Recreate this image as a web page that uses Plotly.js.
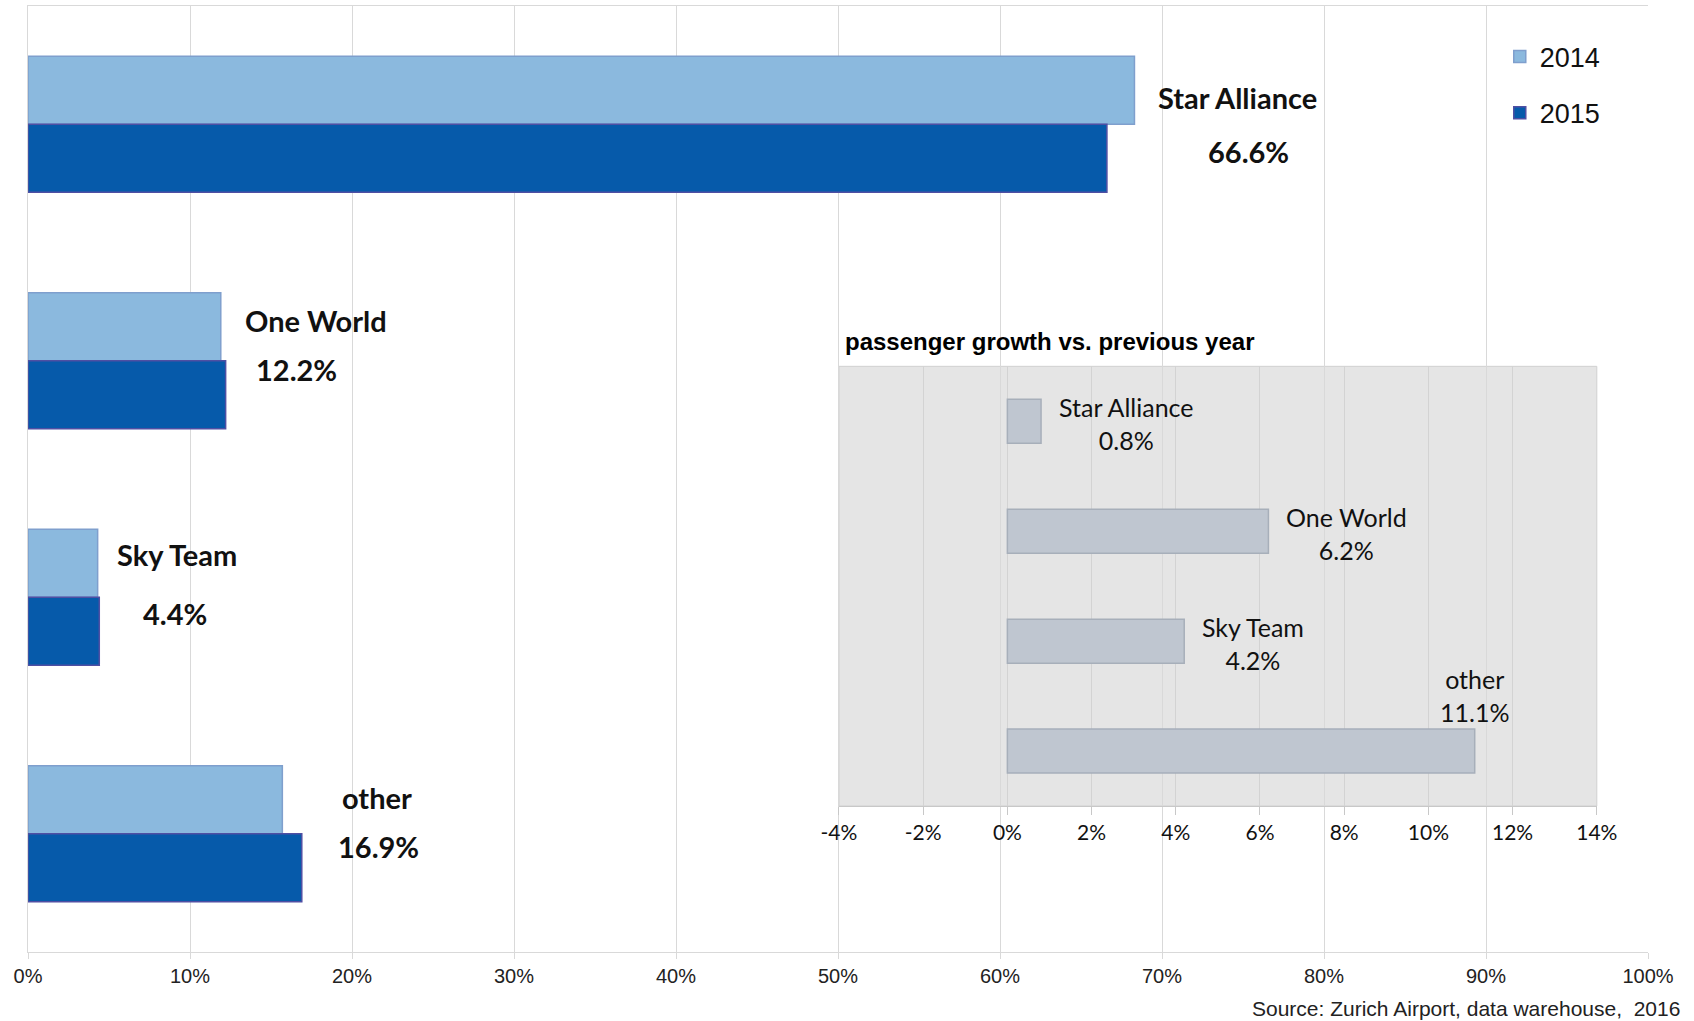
<!DOCTYPE html>
<html>
<head>
<meta charset="utf-8">
<script src="https://cdn.plot.ly/plotly-3.0.1.min.js"></script>
<style>
  html, body { margin: 0; padding: 0; background: #ffffff; }
  #chart { width: 1694px; height: 1021px; }
</style>
</head>
<body>
<div id="chart"></div>
<script>
// ---- data ----
var categories = ['Star Alliance', 'One World', 'Sky Team', 'other'];
var share2014 = [68.3, 11.9, 4.3, 15.7];
var share2015 = [66.6, 12.2, 4.4, 16.9];
var growth = [0.8, 6.2, 4.2, 11.1];
var seriesNames = ['2014', '2015'];
var mainTicks = [0, 10, 20, 30, 40, 50, 60, 70, 80, 90, 100];
var insetTicks = [-4, -2, 0, 2, 4, 6, 8, 10, 12, 14];
var insetTitle = 'passenger growth vs. previous year';
var sourceText = 'Source: Zurich Airport, data warehouse,  2016';

// ---- label placement (pixel offsets from bar end / category centre) ----
var nameOffset  = [[103, -27], [90, -40], [78, -43], [75, -36]];
var valueOffset = [[114, 27], [71, 9], [76, 16], [77, 13]];
var insetLabelMode = ['right', 'right', 'right', 'above'];

var arial = '"Liberation Sans", Arial, sans-serif';
var calib = 'Lato, "Open Sans", sans-serif';

function pct(v) { return v.toFixed(1) + '%'; }
function tickText(v) { return String(v) + '%'; }

var traces = [
  {
    type: 'bar', orientation: 'h', name: seriesNames[0],
    y: categories, x: share2014,
    marker: { color: '#8BB9DE', line: { color: '#7F9FCD', width: 1.5 } },
    xaxis: 'x', yaxis: 'y', legendgroup: 'a', hoverinfo: 'x+y+name'
  },
  {
    type: 'bar', orientation: 'h', name: seriesNames[1],
    y: categories, x: share2015,
    marker: { color: '#065AAA', line: { color: '#4F4FA3', width: 1.5 } },
    xaxis: 'x', yaxis: 'y', legendgroup: 'b', hoverinfo: 'x+y+name'
  },
  {
    type: 'bar', orientation: 'h', name: 'growth',
    y: categories, x: growth, width: 0.4,
    marker: { color: '#BFC6D0', line: { color: '#A7AFBA', width: 1.5 } },
    xaxis: 'x2', yaxis: 'y2', showlegend: false, hoverinfo: 'x+y'
  }
];

var annotations = [];
categories.forEach(function (c, i) {
  var end = Math.max(share2014[i], share2015[i]);
  annotations.push({
    xref: 'x', yref: 'y', x: end, y: c,
    text: '<b>' + c + '</b>', showarrow: false,
    xanchor: 'center', yanchor: 'middle',
    xshift: nameOffset[i][0], yshift: -nameOffset[i][1],
    font: { family: calib, size: 29, color: '#111' }
  });
  annotations.push({
    xref: 'x', yref: 'y', x: end, y: c,
    text: '<b>' + pct(share2015[i]) + '</b>', showarrow: false,
    xanchor: 'center', yanchor: 'middle',
    xshift: valueOffset[i][0], yshift: -valueOffset[i][1],
    font: { family: calib, size: 29, color: '#111' }
  });
  var above = insetLabelMode[i] === 'above';
  annotations.push({
    xref: 'x2', yref: 'y2', x: growth[i], y: c,
    text: c + '<br>' + pct(growth[i]), showarrow: false,
    align: 'center',
    xanchor: above ? 'center' : 'left', yanchor: 'middle',
    xshift: above ? 0 : 16, yshift: above ? 56 : -2,
    font: { family: calib, size: 25, color: '#111' }
  });
});

annotations.push({
  xref: 'x2 domain', yref: 'y2 domain', x: 0, y: 1,
  text: '<b>' + insetTitle + '</b>', showarrow: false,
  xanchor: 'left', yanchor: 'middle', xshift: 4, yshift: 25,
  font: { family: arial, size: 24, color: '#000' }
});
annotations.push({
  xref: 'paper', yref: 'paper', x: 1, y: 0,
  text: sourceText, showarrow: false,
  xanchor: 'right', yanchor: 'middle', xshift: 34, yshift: -56,
  font: { family: arial, size: 21, color: '#222' }
});

var layout = {
  width: 1694, height: 1021,
  margin: { l: 28, r: 46, t: 6, b: 69 },
  paper_bgcolor: '#ffffff',
  plot_bgcolor: 'rgba(0,0,0,0)',
  barmode: 'group', bargap: 0.426, bargroupgap: 0,
  showlegend: true,
  legend: {
    x: 0.9085, y: 0.972, xanchor: 'left', yanchor: 'top',
    font: { family: arial, size: 27, color: '#111' },
    bgcolor: 'rgba(0,0,0,0)', tracegroupgap: 18, traceorder: 'grouped'
  },
  xaxis: {
    domain: [0, 1], range: [0, 100], tickmode: 'array',
    tickvals: mainTicks, ticktext: mainTicks.map(tickText),
    showgrid: true, gridcolor: '#D9D9D9', gridwidth: 1,
    showline: true, linecolor: '#D9D9D9', linewidth: 1, mirror: true,
    ticks: 'outside', ticklen: 6, tickcolor: '#D9D9D9',
    zeroline: false, fixedrange: true,
    tickfont: { family: arial, size: 20, color: '#222' }
  },
  yaxis: {
    domain: [0, 1], type: 'category', categoryorder: 'array', categoryarray: categories,
    range: [3.5, -0.5], showgrid: false, showticklabels: false,
    showline: true, linecolor: '#D9D9D9', ticks: '', zeroline: false, fixedrange: true
  },
  xaxis2: {
    domain: [0.5006, 0.9684], anchor: 'y2', range: [-4, 14], tickmode: 'array',
    tickvals: insetTicks, ticktext: insetTicks.map(tickText),
    showgrid: true, gridcolor: '#D3D3D3', gridwidth: 1,
    showline: true, linecolor: '#C8C8C8', linewidth: 1,
    ticks: 'outside', ticklen: 8, tickcolor: '#C8C8C8',
    zeroline: false, fixedrange: true,
    tickfont: { family: calib, size: 21, color: '#111' }
  },
  yaxis2: {
    domain: [0.1543, 0.6191], anchor: 'x2', type: 'category',
    categoryorder: 'array', categoryarray: categories,
    range: [3.5, -0.5], showgrid: false, showticklabels: false,
    showline: false, ticks: '', zeroline: false, fixedrange: true
  },
  shapes: [{
    type: 'rect', xref: 'x2 domain', yref: 'y2 domain',
    x0: 0, x1: 1, y0: 0, y1: 1, layer: 'below',
    fillcolor: '#E5E5E5', line: { color: '#D0D0D0', width: 1 }
  }],
  annotations: annotations
};

Plotly.newPlot('chart', traces, layout, { displayModeBar: false, staticPlot: true });
</script>
</body>
</html>
